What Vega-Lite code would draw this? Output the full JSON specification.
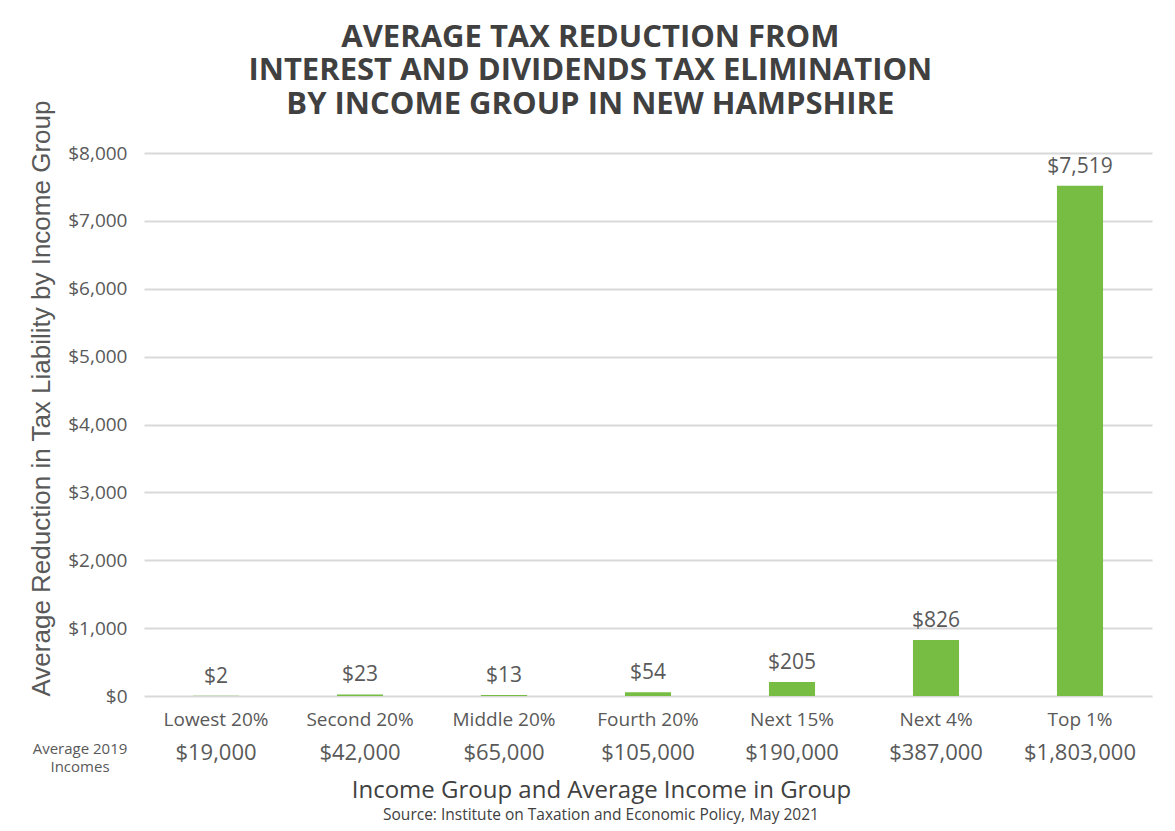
{
  "$schema": "https://vega.github.io/schema/vega-lite/v6.json",
  "background": "white",
  "padding": {"left": 28, "top": 21, "right": 20, "bottom": 10},
  "config": {"font": "Open Sans", "view": {"stroke": null}},
  "title": {
    "text": ["AVERAGE TAX REDUCTION FROM", "INTEREST AND DIVIDENDS TAX ELIMINATION", "BY INCOME GROUP IN NEW HAMPSHIRE"],
    "fontSize": 31, "fontWeight": "bold", "color": "#404040", "lineHeight": 33.5,
    "anchor": "middle", "frame": "bounds", "offset": -21
  },
  "vconcat": [
    {
      "width": 1008,
      "height": 543,
      "title": {
        "text": "Source: Institute on Taxation and Economic Policy, May 2021",
        "orient": "bottom", "anchor": "middle", "frame": "group", "dx": -47,
        "fontSize": 15.5, "fontWeight": "normal", "color": "#404040", "offset": 6
      },
      "data": {
        "values": [
          {"group": "Lowest 20%", "income": "$19,000", "value": 2, "label": "$2"},
          {"group": "Second 20%", "income": "$42,000", "value": 23, "label": "$23"},
          {"group": "Middle 20%", "income": "$65,000", "value": 13, "label": "$13"},
          {"group": "Fourth 20%", "income": "$105,000", "value": 54, "label": "$54"},
          {"group": "Next 15%", "income": "$190,000", "value": 205, "label": "$205"},
          {"group": "Next 4%", "income": "$387,000", "value": 826, "label": "$826"},
          {"group": "Top 1%", "income": "$1,803,000", "value": 7519, "label": "$7,519"}
        ]
      },
      "encoding": {
        "x": {
          "field": "group", "type": "nominal", "sort": null,
          "scale": {"paddingInner": 0.68, "paddingOuter": 0.34},
          "axis": {
            "labelAngle": 0, "labelFontSize": 19, "labelColor": "#595959", "labelPadding": 14,
            "ticks": false, "domain": false,
            "title": "Income Group and Average Income in Group",
            "titleFontSize": 24, "titleFontWeight": 500, "titleColor": "#404040",
            "titlePadding": 49, "titleX": 457, "titleAlign": "center"
          }
        }
      },
      "layer": [
        {
          "mark": {"type": "bar", "color": "#77BC43"},
          "encoding": {
            "y": {
              "field": "value", "type": "quantitative",
              "scale": {"domain": [0, 8000]},
              "axis": {
                "values": [0, 1000, 2000, 3000, 4000, 5000, 6000, 7000, 8000],
                "format": "$,.0f", "labelFontSize": 19, "labelColor": "#595959", "labelPadding": 17,
                "ticks": false, "domain": false, "gridColor": "#d9d9d9", "gridWidth": 2,
                "title": "Average Reduction in Tax Liability by Income Group",
                "titleFont": "Liberation Sans", "titleAnchor": "start",
                "titleFontSize": 26, "titleFontWeight": "normal", "titleColor": "#595959", "titlePadding": 13
              }
            }
          }
        },
        {
          "mark": {"type": "text", "baseline": "bottom", "dy": -9, "fontSize": 21, "color": "#595959"},
          "encoding": {
            "y": {"field": "value", "type": "quantitative"},
            "text": {"field": "label"}
          }
        },
        {
          "mark": {"type": "text", "baseline": "middle", "dy": 57, "fontSize": 22, "color": "#595959"},
          "encoding": {
            "y": {"datum": 0},
            "text": {"field": "income"}
          }
        },
        {
          "data": {"values": [{"note": "Average 2019\nIncomes"}]},
          "mark": {"type": "text", "baseline": "middle", "align": "center", "dx": -136, "dy": 53, "fontSize": 15, "lineHeight": 18, "lineBreak": "\n", "color": "#595959"},
          "encoding": {
            "x": {"datum": "Lowest 20%"},
            "y": {"datum": 0},
            "text": {"field": "note"}
          }
        }
      ]
    }
  ]
}
